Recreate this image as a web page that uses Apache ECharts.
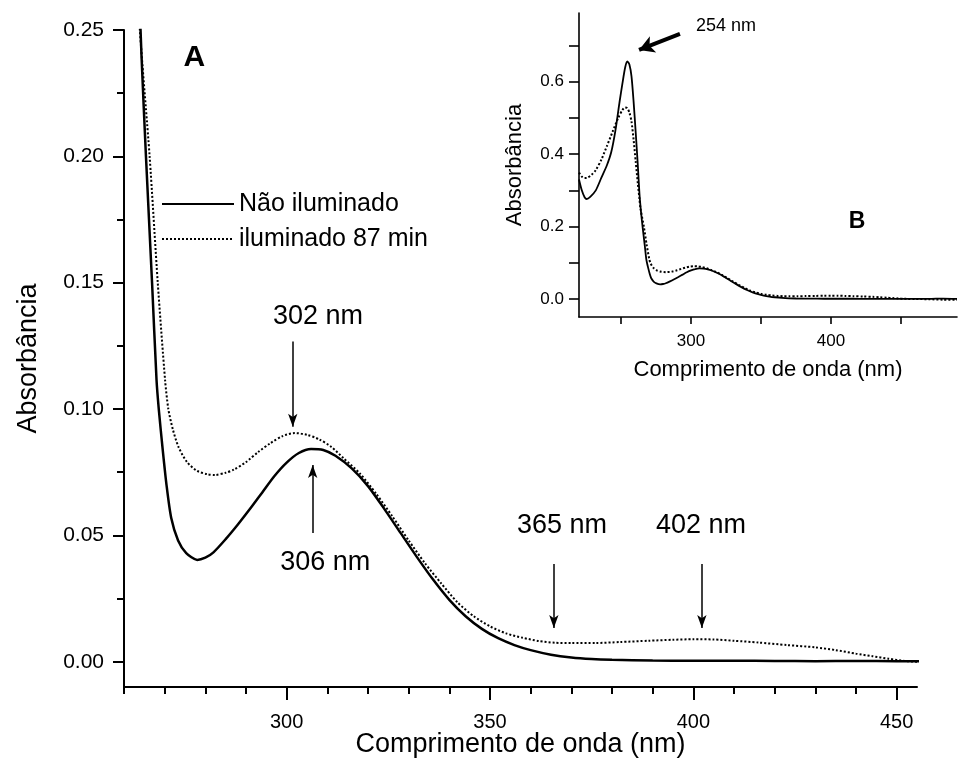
<!DOCTYPE html>
<html><head><meta charset="utf-8">
<script src="https://cdn.jsdelivr.net/npm/echarts@6/dist/echarts.min.js"></script>
<style>html,body{margin:0;padding:0;background:#fff}#c{width:960px;height:760px}</style>
</head><body><div id="c"></div>
<script>
const FONT = 'Liberation Sans, Arial, Helvetica, sans-serif';

// Spectrum: Não iluminado (solid)
const wlSolid = [220,222,224,225.5,228,232,236,240,243,246,249,251,253,254.5,256,257.5,259,260.5,262,263.2,264.3,265.4,266.9,268.0,268.55,269.45,270.45,271.6,273.3,275.3,278,280,282,285,288,291,294,297,300,303,306,309,312,316,320,324,328,332,336,340,344,348,352,356,360,365,370,375,380,390,400,410,420,430,440,450,455,460,470,480,490];
const absSolid = [0.330,0.300,0.281,0.276,0.282,0.300,0.335,0.370,0.405,0.465,0.545,0.595,0.640,0.656,0.648,0.615,0.545,0.460,0.370,0.290,0.240,0.200,0.150,0.1115,0.100,0.085,0.070,0.057,0.048,0.0430,0.0403,0.0412,0.0433,0.0485,0.0543,0.0605,0.0670,0.0735,0.0788,0.0826,0.0842,0.0838,0.0815,0.0765,0.0695,0.0605,0.0510,0.0415,0.0325,0.0245,0.0180,0.0130,0.0093,0.0066,0.0046,0.0028,0.0017,0.0011,0.0008,0.0005,0.0004,0.0004,0.0003,0.0002,0.0003,0.0002,0.0002,0.0002,0.0000,0.0010,0.0000];

// Spectrum: iluminado 87 min (dotted)
const wlDotted = [220,222,224,226,229,232,236,240,244,248,251,253,254.5,256,257.5,259,260.5,262,263.2,263.9,266.3,268.3,270.1,270.9,272,273.4,275.5,278,280.5,282.4,285,287,290,293,296,299,302,305,308,311,314,318,322,326,330,334,338,342,346,350,354,358,362,366,370,376,382,389,395,400,405,410,416,423,430,435,440,444,448,452,455,460,470,480,490];
const absDotted = [0.349,0.338,0.334,0.335,0.343,0.356,0.385,0.423,0.462,0.500,0.522,0.529,0.527,0.515,0.490,0.440,0.380,0.320,0.275,0.250,0.200,0.150,0.1115,0.100,0.092,0.085,0.079,0.0755,0.0742,0.0739,0.0748,0.0760,0.0790,0.0830,0.0865,0.0893,0.0905,0.0898,0.0880,0.0850,0.0805,0.0745,0.0665,0.0575,0.0480,0.0390,0.0310,0.0235,0.0180,0.0140,0.0112,0.0095,0.0082,0.0075,0.0074,0.0074,0.0078,0.0083,0.0087,0.0089,0.0088,0.0083,0.0076,0.0066,0.0057,0.0046,0.0032,0.0022,0.0012,0.0003,0.0000,0.0000,-0.0010,-0.0020,-0.0020];

const seriesNames = ['Não iluminado', 'iluminado 87 min'];

// Tick values
const mainXLabels = [300,350,400,450];
const mainXMinor = [260,270,280,290,310,320,330,340,360,370,380,390,410,420,430,440];
const mainYLabels = [0,0.05,0.10,0.15,0.20,0.25];
const mainYMinor = [0.025,0.075,0.125,0.175,0.225];
const insetXTicks = [250,300,350,400,450];
const insetXLabels = [300,400];
const insetYTicks = [0,0.1,0.2,0.3,0.4,0.5,0.6,0.7];
const insetYLabels = [0,0.2,0.4,0.6];

// Annotations (data coordinates)
const mainTexts = [[307.7,0.1365,'302 nm'],[309.5,0.0391,'306 nm'],[367.7,0.0537,'365 nm'],[401.9,0.0537,'402 nm']];
const mainArrows = [[301.5,0.1267,301.5,0.0930],[306.4,0.0509,306.4,0.0779],[365.7,0.0387,365.7,0.0133],[402.1,0.0387,402.1,0.0133]];
const panelA = [[277.3,0.2392,'A']];
const insetTexts = [[325,0.7545,'254 nm']];
const panelB = [[418.6,0.2136,'B']];
const insetArrows = [[292.1,0.7323,262.9,0.688]];

const zip = (xs, ys) => xs.map((x, i) => [x, ys[i]]);

const chart = echarts.init(document.getElementById('c'), null, {renderer: 'canvas'});

function arrowData(list, size) {
  return list.map(a => [
    {coord: [a[0], a[1]], symbol: 'none'},
    {coord: [a[2], a[3]], symbol: 'arrow', symbolSize: size}
  ]);
}

const blackLabel = (size, weight) => ({
  show: true, position: 'inside', formatter: p => p.data[2],
  color: '#000000', opacity: 1, fontSize: size, fontWeight: weight || 'normal',
  fontFamily: FONT, textBorderWidth: 0, textShadowBlur: 0
});

const option = {
  animation: false,
  backgroundColor: '#fff',
  textStyle: {fontFamily: FONT, color: '#000'},
  grid: [
    {left: 124, top: 30, width: 793, height: 657, outerBoundsMode: 'none', containLabel: false},
    {left: 579, top: 13, width: 378, height: 304, outerBoundsMode: 'none', containLabel: false}
  ],
  legend: {
    data: seriesNames,
    orient: 'vertical',
    left: 156, top: 186,
    itemWidth: 72, itemHeight: 14, itemGap: 9,
    selectedMode: false,
    itemStyle: {opacity: 0},
    textStyle: {fontSize: 25, fontFamily: FONT, color: '#000', lineHeight: 26}
  },
  xAxis: [
    {gridIndex: 0, type: 'value', min: 260, max: 455, position: 'bottom',
     axisLine: {show: true, onZero: false, lineStyle: {color: '#000', width: 2}},
     axisTick: {show: true, customValues: mainXLabels, length: 13, lineStyle: {color: '#000', width: 2}},
     axisLabel: {customValues: mainXLabels, fontSize: 20, color: '#000', margin: 25, fontFamily: FONT},
     splitLine: {show: false},
     name: 'Comprimento de onda (nm)', nameLocation: 'middle', nameGap: 44, nameMoveOverlap: false,
     nameTextStyle: {fontSize: 27, color: '#000', fontFamily: FONT}},
    {gridIndex: 0, type: 'value', min: 260, max: 455, position: 'bottom',
     axisLine: {show: false, onZero: false},
     axisTick: {show: true, customValues: mainXMinor, length: 7, lineStyle: {color: '#000', width: 2}},
     axisLabel: {show: false}, splitLine: {show: false}},
    {gridIndex: 1, type: 'value', min: 220, max: 490, position: 'bottom',
     axisLine: {show: true, onZero: false, lineStyle: {color: '#000', width: 1.6}},
     axisTick: {show: true, customValues: insetXTicks, length: 7, lineStyle: {color: '#000', width: 1.6}},
     axisLabel: {customValues: insetXLabels, fontSize: 17, color: '#000', margin: 16, fontFamily: FONT},
     splitLine: {show: false},
     name: 'Comprimento de onda (nm)', nameLocation: 'middle', nameGap: 42, nameMoveOverlap: false,
     nameTextStyle: {fontSize: 22, color: '#000', fontFamily: FONT}}
  ],
  yAxis: [
    {gridIndex: 0, type: 'value', min: -0.01, max: 0.25, position: 'left',
     axisLine: {show: true, onZero: false, lineStyle: {color: '#000', width: 2}},
     axisTick: {show: true, customValues: mainYLabels, length: 11, lineStyle: {color: '#000', width: 2}},
     axisLabel: {customValues: mainYLabels, fontSize: 21, color: '#000', margin: 20, fontFamily: FONT,
                 formatter: v => v.toFixed(2)},
     splitLine: {show: false},
     name: 'Absorbância', nameLocation: 'middle', nameGap: 82, nameMoveOverlap: false,
     nameTextStyle: {fontSize: 27, color: '#000', fontFamily: FONT}},
    {gridIndex: 0, type: 'value', min: -0.01, max: 0.25, position: 'left',
     axisLine: {show: false, onZero: false},
     axisTick: {show: true, customValues: mainYMinor, length: 7, lineStyle: {color: '#000', width: 2}},
     axisLabel: {show: false}, splitLine: {show: false}},
    {gridIndex: 1, type: 'value', min: -0.05, max: 0.79, position: 'left',
     axisLine: {show: true, onZero: false, lineStyle: {color: '#000', width: 1.6}},
     axisTick: {show: true, customValues: insetYTicks, length: 10, lineStyle: {color: '#000', width: 1.6}},
     axisLabel: {customValues: insetYLabels, fontSize: 17, color: '#000', margin: 15, fontFamily: FONT,
                 formatter: v => v.toFixed(1)},
     splitLine: {show: false},
     name: 'Absorbância', nameLocation: 'middle', nameGap: 53, nameMoveOverlap: false,
     nameTextStyle: {fontSize: 22, color: '#000', fontFamily: FONT}}
  ],
  series: [
    {name: seriesNames[0], type: 'line', xAxisIndex: 0, yAxisIndex: 0, data: zip(wlSolid, absSolid),
     symbol: 'none', smooth: 0.25, clip: true,
     lineStyle: {color: '#000', width: 2.5, type: 'solid'}, itemStyle: {color: '#000'},
     markLine: {silent: true, animation: false, symbol: ['none', 'arrow'],
       lineStyle: {color: '#000', width: 1.5, type: 'solid'}, label: {show: false},
       emphasis: {disabled: true},
       data: arrowData(mainArrows, [7, 13])}},
    {name: seriesNames[1], type: 'line', xAxisIndex: 0, yAxisIndex: 0, data: zip(wlDotted, absDotted),
     symbol: 'none', smooth: 0.25, clip: true,
     lineStyle: {color: '#000', width: 2, type: [2, 2]}, itemStyle: {color: '#000'}},
    {name: seriesNames[0], type: 'line', xAxisIndex: 2, yAxisIndex: 2, data: zip(wlSolid, absSolid),
     symbol: 'none', smooth: 0.25, clip: true,
     lineStyle: {color: '#000', width: 1.8, type: 'solid'}, itemStyle: {color: '#000'}},
    {name: seriesNames[1], type: 'line', xAxisIndex: 2, yAxisIndex: 2, data: zip(wlDotted, absDotted),
     symbol: 'none', smooth: 0.25, clip: true,
     lineStyle: {color: '#000', width: 2, type: [2, 2]}, itemStyle: {color: '#000'}},
    {type: 'scatter', xAxisIndex: 0, yAxisIndex: 0, symbolSize: 0, silent: true,
     itemStyle: {color: '#000'}, data: mainTexts, label: blackLabel(27)},
    {type: 'scatter', xAxisIndex: 0, yAxisIndex: 0, symbolSize: 0, silent: true,
     itemStyle: {color: '#000'}, data: panelA, label: blackLabel(30, 'bold')},
    {type: 'scatter', xAxisIndex: 2, yAxisIndex: 2, symbolSize: 0, silent: true,
     itemStyle: {color: '#000'}, data: insetTexts, label: blackLabel(18),
     markLine: {silent: true, animation: false, symbol: ['none', 'arrow'],
       lineStyle: {color: '#000', width: 4, type: 'solid'}, label: {show: false},
       emphasis: {disabled: true},
       data: arrowData(insetArrows, [13, 15])}},
    {type: 'scatter', xAxisIndex: 2, yAxisIndex: 2, symbolSize: 0, silent: true,
     itemStyle: {color: '#000'}, data: panelB, label: blackLabel(23, 'bold')}
  ]
};
chart.setOption(option);
</script>
</body></html>
